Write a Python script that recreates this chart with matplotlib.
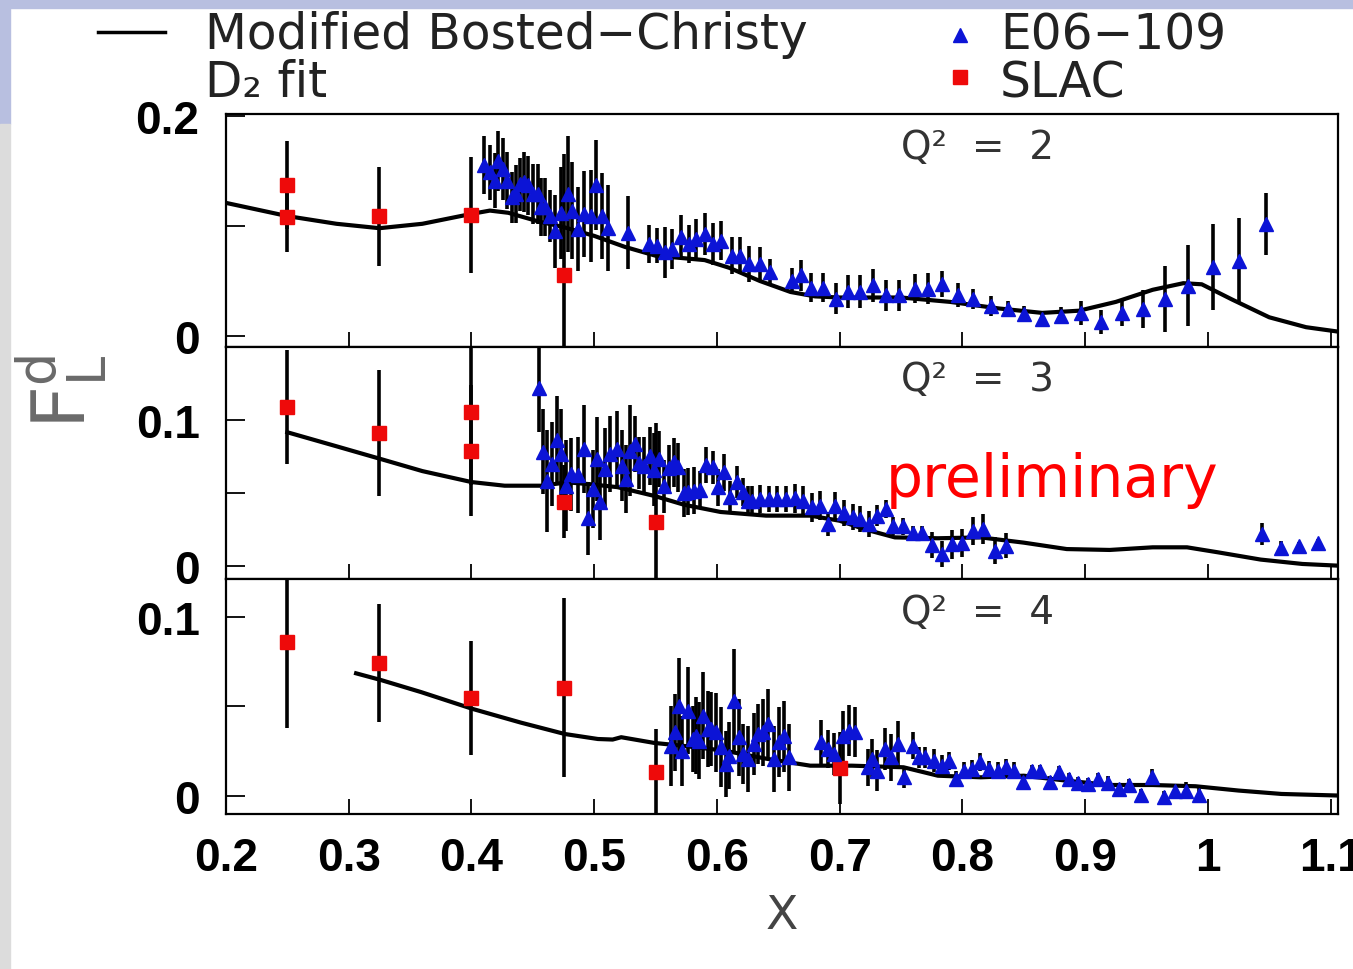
import matplotlib
matplotlib.use("Agg")
import matplotlib.pyplot as plt
from matplotlib.lines import Line2D
from matplotlib.patches import Rectangle

# ── Data ──────────────────────────────────────────────────────────────────────
# Q^2 = 2
fit2_x = [0.20, 0.25, 0.29, 0.325, 0.36, 0.40, 0.415, 0.43, 0.455, 0.475, 0.50, 0.525,
          0.55, 0.57, 0.59, 0.61, 0.635, 0.66, 0.68, 0.70, 0.75, 0.79, 0.83, 0.865,
          0.895, 0.925, 0.955, 0.98, 0.995, 1.02, 1.05, 1.08, 1.106]
fit2_y = [0.121, 0.109, 0.102, 0.098, 0.102, 0.111, 0.114, 0.112, 0.104, 0.099, 0.091, 0.081,
          0.073, 0.071, 0.069, 0.062, 0.050, 0.040, 0.036, 0.035, 0.035, 0.031, 0.025, 0.021,
          0.023, 0.031, 0.042, 0.048, 0.047, 0.033, 0.017, 0.008, 0.004]
e06_2_x = [0.4105, 0.415, 0.4195, 0.422, 0.4255, 0.429, 0.433, 0.436, 0.4395, 0.443,
           0.446, 0.450, 0.454, 0.457, 0.460, 0.464, 0.468, 0.473, 0.4785, 0.482,
           0.487, 0.492, 0.497, 0.5015, 0.506, 0.5115,
           0.5275, 0.5446, 0.5515, 0.558, 0.5637, 0.5705, 0.577, 0.583, 0.590, 0.597,
           0.6037, 0.612, 0.619, 0.6265, 0.635, 0.6436, 0.661, 0.6684, 0.677, 0.6866,
           0.697, 0.707, 0.7165, 0.727, 0.738, 0.748,
           0.761, 0.772, 0.7836, 0.7966, 0.809, 0.823, 0.837, 0.85, 0.865, 0.880,
           0.8964, 0.913, 0.930, 0.947, 0.965, 0.984, 1.0045, 1.025, 1.047]
e06_2_y = [0.1555, 0.149, 0.141, 0.159, 0.152, 0.141, 0.126, 0.129, 0.138, 0.140,
           0.137, 0.129, 0.129, 0.117, 0.117, 0.109, 0.095, 0.112, 0.129, 0.114,
           0.097, 0.111, 0.109, 0.137, 0.109, 0.098,
           0.094, 0.0836, 0.082, 0.076, 0.079, 0.0897, 0.0836, 0.088, 0.0927, 0.0836,
           0.0867, 0.073, 0.073, 0.0655, 0.0655, 0.058, 0.050, 0.055, 0.044, 0.044,
           0.034, 0.040, 0.040, 0.046, 0.037, 0.037,
           0.043, 0.043, 0.047, 0.037, 0.0336, 0.0276, 0.0245, 0.020, 0.0155, 0.0185,
           0.021, 0.0124, 0.021, 0.0245, 0.0336, 0.0457, 0.0624, 0.0685, 0.102]
e06_2_err = [0.026, 0.025, 0.025, 0.027, 0.028, 0.026, 0.0235, 0.026, 0.024, 0.027,
             0.027, 0.027, 0.027, 0.0265, 0.0265, 0.024, 0.033, 0.042, 0.053, 0.044,
             0.038, 0.039, 0.042, 0.041, 0.039, 0.039,
             0.033, 0.017, 0.016, 0.0235, 0.018, 0.020, 0.017, 0.018, 0.019, 0.019,
             0.018, 0.017, 0.017, 0.016, 0.015, 0.012, 0.012, 0.014, 0.013, 0.013,
             0.014, 0.015, 0.015, 0.015, 0.014, 0.014,
             0.013, 0.014, 0.012, 0.011, 0.009, 0.009, 0.007, 0.0076, 0.0076, 0.008,
             0.011, 0.011, 0.012, 0.017, 0.030, 0.037, 0.039, 0.039, 0.028]
slac2_x = [0.25, 0.25, 0.325, 0.40, 0.475]
slac2_y = [0.137, 0.108, 0.109, 0.110, 0.055]
slac2_err = [0.04, 0.032, 0.045, 0.053, 0.11]

# Q^2 = 3
fit3_x = [0.25, 0.29, 0.326, 0.36, 0.40, 0.427, 0.457, 0.478, 0.497, 0.519, 0.549, 0.573,
          0.603, 0.64, 0.676, 0.70, 0.721, 0.745, 0.78, 0.815, 0.85, 0.885, 0.92, 0.955,
          0.983, 1.008, 1.043, 1.077, 1.107]
fit3_y = [0.0916, 0.082, 0.0733, 0.065, 0.0575, 0.055, 0.055, 0.0573, 0.056, 0.054, 0.048,
          0.042, 0.037, 0.0345, 0.0345, 0.031, 0.025, 0.0196, 0.019, 0.0196, 0.016, 0.0116,
          0.011, 0.0128, 0.0128, 0.0094, 0.0044, 0.0014, 0.0002]
e06_3_x = [0.4553, 0.458, 0.4615, 0.4653, 0.4697, 0.473, 0.477, 0.481, 0.4865, 0.4914,
           0.4952, 0.4987, 0.5022, 0.505, 0.5088, 0.5131, 0.5185, 0.5223, 0.5259, 0.5294,
           0.5332, 0.5367, 0.5408, 0.5457, 0.549, 0.553, 0.5571, 0.5606, 0.5647, 0.568,
           0.5728, 0.5766, 0.581, 0.5864, 0.591, 0.5964, 0.6005, 0.6054, 0.6108, 0.6163,
           0.6209, 0.625,
           0.6284, 0.6354, 0.6424, 0.6493, 0.6563, 0.6633, 0.6703, 0.6773, 0.6843, 0.6906,
           0.6965, 0.7035, 0.7105, 0.7168, 0.7238, 0.7308, 0.7378, 0.7437, 0.7517, 0.7601,
           0.7671, 0.7752, 0.7832, 0.7916, 0.7996, 0.8084, 0.8171, 0.8266, 0.8356,
           1.0443, 1.0593, 1.074, 1.09]
e06_3_y = [0.1217, 0.0783, 0.0584, 0.0698, 0.0865, 0.0767, 0.055, 0.063, 0.0623, 0.0801,
           0.0326, 0.0527, 0.0733, 0.044, 0.0664, 0.0767, 0.0801, 0.0687, 0.0596, 0.079,
           0.0835, 0.0705, 0.0687, 0.0755, 0.066, 0.0733, 0.0545, 0.0669, 0.071, 0.0675,
           0.05, 0.0509, 0.0516, 0.0523, 0.0692, 0.0676, 0.0538, 0.0641, 0.047, 0.0573,
           0.0509, 0.0447,
           0.0448, 0.046, 0.046, 0.046, 0.046, 0.0464, 0.0448, 0.0402, 0.0413, 0.0288,
           0.0413, 0.0363, 0.0334, 0.0322, 0.0288, 0.0345, 0.0391, 0.0276, 0.0272, 0.0226,
           0.0226, 0.0144, 0.0082, 0.015, 0.0158, 0.0242, 0.0254, 0.0105, 0.014,
           0.022, 0.0123, 0.0135, 0.0158]
e06_3_err = [0.03, 0.029, 0.035, 0.029, 0.030, 0.031, 0.031, 0.025, 0.026, 0.030,
             0.025, 0.027, 0.029, 0.026, 0.028, 0.026, 0.026, 0.0245, 0.023, 0.031,
             0.019, 0.018, 0.020, 0.020, 0.025, 0.019, 0.018, 0.016, 0.017, 0.017,
             0.0165, 0.016, 0.016, 0.0125, 0.0125, 0.0115, 0.0125, 0.0125, 0.011, 0.011,
             0.0097, 0.010,
             0.0097, 0.0097, 0.009, 0.009, 0.009, 0.010, 0.010, 0.010, 0.010, 0.008,
             0.0097, 0.009, 0.009, 0.009, 0.0086, 0.007, 0.0063, 0.0063, 0.006, 0.0051,
             0.0051, 0.009, 0.0086, 0.010, 0.0097, 0.0097, 0.010, 0.0091, 0.0086,
             0.0074, 0.0046, 0.003, 0.003]
slac3_x = [0.25, 0.325, 0.40, 0.40, 0.475, 0.55]
slac3_y = [0.109, 0.091, 0.1057, 0.079, 0.044, 0.030]
slac3_err = [0.039, 0.043, 0.05, 0.045, 0.025, 0.068]

# Q^2 = 4
fit4_x = [0.306, 0.326, 0.359, 0.401, 0.44, 0.476, 0.503, 0.515, 0.522, 0.549, 0.571,
          0.606, 0.641, 0.676, 0.71, 0.752, 0.78, 0.815, 0.85, 0.885, 0.92, 0.955, 0.99,
          1.025, 1.06, 1.107]
fit4_y = [0.0685, 0.0648, 0.058, 0.0486, 0.041, 0.0346, 0.0318, 0.0315, 0.0328, 0.0296,
          0.0281, 0.0253, 0.0207, 0.0169, 0.0169, 0.016, 0.0113, 0.0104, 0.0113, 0.0085,
          0.0061, 0.0061, 0.0054, 0.003, 0.0011, 0.0002]
e06_4_x = [0.5625, 0.5658, 0.5693, 0.5712, 0.5761, 0.5802, 0.5829, 0.5856, 0.5883, 0.5924,
           0.5951, 0.5992, 0.6032, 0.6073, 0.61, 0.6141, 0.6176, 0.6209, 0.625, 0.6298,
           0.6337, 0.6372, 0.6418, 0.6461, 0.6508, 0.6543, 0.6589, 0.6847, 0.6901, 0.6955,
           0.7028, 0.7077, 0.7123, 0.7227, 0.7262, 0.7308, 0.7367, 0.742, 0.7472, 0.7525,
           0.7595, 0.7647, 0.7699, 0.7769, 0.7832, 0.7891, 0.7944, 0.8014, 0.8077, 0.8143,
           0.8217, 0.8287, 0.8353, 0.8423, 0.8493, 0.8566, 0.8636, 0.8713, 0.879, 0.887,
           0.894, 0.902, 0.9104, 0.9185, 0.9272, 0.936, 0.9454, 0.9545, 0.9639, 0.9734,
           0.9825, 0.993]
e06_4_y = [0.0281, 0.0355, 0.0504, 0.0253, 0.0476, 0.0318, 0.0337, 0.0309, 0.0449, 0.0374,
           0.0374, 0.0355, 0.0272, 0.0179, 0.0225, 0.0532, 0.0328, 0.0234, 0.0206, 0.029,
           0.0346, 0.0355, 0.0402, 0.0206, 0.030, 0.0333, 0.0216, 0.030, 0.0262, 0.0234,
           0.0337, 0.0365, 0.0359, 0.016, 0.0207, 0.0141, 0.0262, 0.0216, 0.029, 0.0104,
           0.0281, 0.0216, 0.0216, 0.0197, 0.0169, 0.0197, 0.0095, 0.0141, 0.015, 0.0188,
           0.015, 0.0141, 0.016, 0.0141, 0.0076, 0.0141, 0.0141, 0.0076, 0.0132, 0.0095,
           0.0072, 0.0067, 0.0095, 0.0072, 0.0039, 0.0061, 0.0005, 0.0104, -0.0008, 0.003,
           0.003, 0.0005]
e06_4_err = [0.0223, 0.0214, 0.0265, 0.0196, 0.0242, 0.0186, 0.0214, 0.0214, 0.0242, 0.0214,
             0.0205, 0.0219, 0.0223, 0.0186, 0.0186, 0.0289, 0.0214, 0.0168, 0.0186, 0.0172,
             0.0168, 0.0186, 0.0196, 0.0186, 0.0196, 0.02, 0.0186, 0.0126, 0.0107, 0.0116,
             0.014, 0.0144, 0.014, 0.0102, 0.011, 0.0116, 0.0116, 0.013, 0.013, 0.006,
             0.0075, 0.006, 0.006, 0.0065, 0.006, 0.005, 0.0047, 0.0047, 0.005, 0.005,
             0.0047, 0.0047, 0.0047, 0.0047, 0.0037, 0.0033, 0.0033, 0.0037, 0.0033, 0.0033,
             0.0033, 0.0033, 0.0033, 0.0037, 0.0033, 0.0033, 0.0033, 0.0047, 0.0037, 0.0037,
             0.0047, 0.0042]
slac4_x = [0.25, 0.325, 0.40, 0.475, 0.55, 0.70]
slac4_y = [0.0862, 0.0743, 0.0547, 0.0605, 0.0136, 0.0155]
slac4_err = [0.048, 0.033, 0.032, 0.050, 0.024, 0.02]

x_ticks = [0.2, 0.3, 0.4, 0.5, 0.6, 0.7, 0.8, 0.9, 1.0, 1.1]
x_ticklabels = ["0.2", "0.3", "0.4", "0.5", "0.6", "0.7", "0.8", "0.9", "1", "1.1"]

BLUE = "#0c14d6"
RED = "#ee0a0a"
W, H = 1353, 970

fig = plt.figure(figsize=(W / 100, H / 100), dpi=100)
fig.patch.set_facecolor("white")

# slide frame bits
fig.patches.append(Rectangle((0, 1 - 9 / H), 1, 9 / H, transform=fig.transFigure,
                             color="#b8bfe0", zorder=0))
fig.patches.append(Rectangle((0, 1 - 125 / H), 10 / W, 125 / H, transform=fig.transFigure,
                             color="#b8bfe0", zorder=0))
fig.patches.append(Rectangle((0, 0), 10 / W, 1 - 125 / H, transform=fig.transFigure,
                             color="#dcdcdc", zorder=0))

panels = [
    # (top px, bottom px, ylim, yticks, yticklabels, fit, e06, slac, Q2)
    (115, 348, (-0.0100, 0.2018), [0, 0.1, 0.2], ["0", "", "0.2"],
     (fit2_x, fit2_y), (e06_2_x, e06_2_y, e06_2_err), (slac2_x, slac2_y, slac2_err), "2"),
    (348, 580, (-0.0089, 0.1500), [0, 0.05, 0.1], ["0", "", "0.1"],
     (fit3_x, fit3_y), (e06_3_x, e06_3_y, e06_3_err), (slac3_x, slac3_y, slac3_err), "3"),
    (580, 815, (-0.0101, 0.1212), [0, 0.05, 0.1], ["0", "", "0.1"],
     (fit4_x, fit4_y), (e06_4_x, e06_4_y, e06_4_err), (slac4_x, slac4_y, slac4_err), "4"),
]

tick_font = dict(family="Liberation Sans", weight="bold", size=33)
axes = []
for i, (top, bot, ylim, yt, ytl, fit, e06, slac, q2) in enumerate(panels):
    ax = fig.add_axes([226 / W, 1 - bot / H, (1338 - 226) / W, (bot - top) / H])
    axes.append(ax)
    ax.plot(fit[0], fit[1], color="black", lw=3, zorder=2)
    ax.errorbar(slac[0], slac[1], yerr=slac[2], fmt="s", color=RED, mec=RED,
                ms=10, ecolor="black", elinewidth=2.6, capsize=0, zorder=3)
    ax.errorbar(e06[0], e06[1], yerr=e06[2], fmt="^", color=BLUE, mec=BLUE,
                ms=9.5, ecolor="black", elinewidth=2.6, capsize=0, zorder=3)
    ax.set_xlim(0.2, 1.106)
    ax.set_ylim(*ylim)
    ax.set_xticks(x_ticks)
    ax.set_yticks(yt)
    ax.set_yticklabels(ytl, fontdict=tick_font)
    if i == 2:
        ax.set_xticklabels(x_ticklabels, fontdict=tick_font)
    else:
        ax.set_xticklabels([])
    ax.tick_params(axis="x", direction="in", length=11, width=1.3, pad=16, colors="black")
    ax.tick_params(axis="y", direction="in", length=14, width=1.3, pad=19, colors="black")
    for sp in ax.spines.values():
        sp.set_linewidth(1.6)
    ax.text(0.75, 0.86, "Q²  =  " + q2, transform=ax.get_xaxis_transform(),
            fontsize=28, color="#333333", va="center", ha="left", family="DejaVu Sans")

axes[1].text(0.7376, 0.358, "preliminary", transform=axes[1].get_xaxis_transform(),
             fontsize=42, color="#ff0000", va="baseline", ha="left", family="DejaVu Sans")

# legend drawn above the panels
fig.add_artist(Line2D([98 / W, 165 / W], [1 - 33 / H] * 2, color="black", lw=2.5,
                      transform=fig.transFigure))
fig.add_artist(Line2D([960 / W], [1 - 36 / H], marker="^", color=BLUE, ms=10, ls="none",
                      transform=fig.transFigure))
fig.add_artist(Line2D([960 / W], [1 - 78 / H], marker="s", color=RED, ms=10, ls="none",
                      transform=fig.transFigure))
leg_font = dict(fontsize=35, color="#222222", family="DejaVu Sans", va="top", ha="left",
                linespacing=1.0)
fig.text(205 / W, 1 - 11 / H, "Modified Bosted\u2212Christy\nD\u2082 fit", **leg_font)
fig.text(1000 / W, 1 - 11 / H, "E06\u2212109\nSLAC", **leg_font)

# axis titles
plt.rcParams["mathtext.default"] = "regular"
fig.text(62 / W, 1 - 392 / H, r"$F^{d}_{L}$", rotation=90, fontsize=54, color="#6a6a6a",
         ha="center", va="center")
fig.text(782 / W, 1 - 917 / H, "X", fontsize=34, color="#444444", ha="center", va="center",
         family="DejaVu Sans")

fig.savefig("out.png", dpi=100, facecolor=fig.get_facecolor())
